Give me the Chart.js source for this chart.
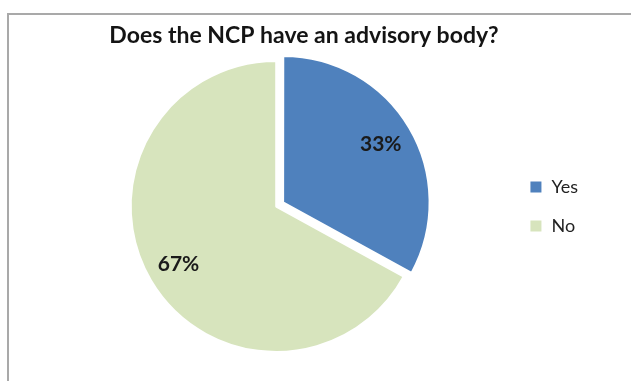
<!DOCTYPE html>
<html>
<head>
<meta charset="utf-8">
<script src="https://cdn.jsdelivr.net/npm/chart.js@4.4.1/dist/chart.umd.min.js"></script>
<style>
  html, body { margin: 0; padding: 0; background: #fff; }
  #wrap { position: relative; width: 631px; height: 381px; overflow: hidden; }
  #frame {
    position: absolute; left: 7px; top: 13px; width: 700px; height: 400px;
    border-left: 2px solid #a9a9a9; border-top: 2px solid #a9a9a9;
  }
  #pie { position: absolute; left: 0; top: 0; }
</style>
</head>
<body>
<div id="wrap">
  <div id="frame"></div>
  <canvas id="pie" width="631" height="381"></canvas>
</div>
<script>
var chartTitle = "Does the NCP have an advisory body?";
var labels = ["Yes", "No"];
var shares = [33, 67];
var colours = ["#4f81bd", "#d7e4bd"];
var offsets = [32, 0];

var fontFamily = "Lato, 'Liberation Sans', sans-serif";

// title sits a little left of the pie + legend centre, so it is drawn by hand
var boxTitle = {
    id: "boxTitle",
    afterDraw: function(chart) {
        var ctx = chart.ctx;
        ctx.save();
        ctx.font = "bold 23px " + fontFamily;
        ctx.fillStyle = "#141414";
        ctx.textAlign = "center";
        ctx.textBaseline = "middle";
        ctx.fillText(chartTitle, 304, 36);
        ctx.restore();
    }
};

// writes the percentage inside each slice
var sliceLabels = {
    id: "sliceLabels",
    afterDatasetsDraw: function(chart) {
        var ctx = chart.ctx;
        var meta = chart.getDatasetMeta(0);
        ctx.save();
        ctx.font = "bold 21px " + fontFamily;
        ctx.fillStyle = "#1a1a1a";
        ctx.textAlign = "center";
        ctx.textBaseline = "middle";
        meta.data.forEach(function(arc, i) {
            var p = arc.getProps(["x", "y", "startAngle", "endAngle", "outerRadius"], true);
            var mid = (p.startAngle + p.endAngle) / 2;
            var dist = offsets[i] / 4 + p.outerRadius * 0.78;
            ctx.fillText(shares[i] + "%", p.x + Math.cos(mid) * dist, p.y + Math.sin(mid) * dist);
        });
        ctx.restore();
    }
};

window.addEventListener("load", function() {
    var canvas = document.getElementById("pie").getContext("2d");
    new Chart(canvas, {
        type: "pie",
        data: {
            labels: labels,
            datasets: [{
                data: shares,
                backgroundColor: colours,
                borderColor: "#ffffff",
                borderWidth: 2,
                hoverBorderWidth: 2,
                offset: offsets,
                hoverOffset: 0
            }]
        },
        options: {
            responsive: false,
            animation: false,
            events: [],
            layout: { padding: { left: 44, right: 43, top: 44, bottom: 12 } },
            plugins: {
                tooltip: { enabled: false },
                title: { display: false },
                legend: {
                    position: "right",
                    labels: {
                        color: "#222222",
                        font: { family: fontFamily, size: 18 },
                        boxWidth: 13,
                        boxHeight: 13,
                        padding: 21
                    }
                }
            }
        },
        plugins: [sliceLabels, boxTitle]
    });
});
</script>
</body>
</html>
